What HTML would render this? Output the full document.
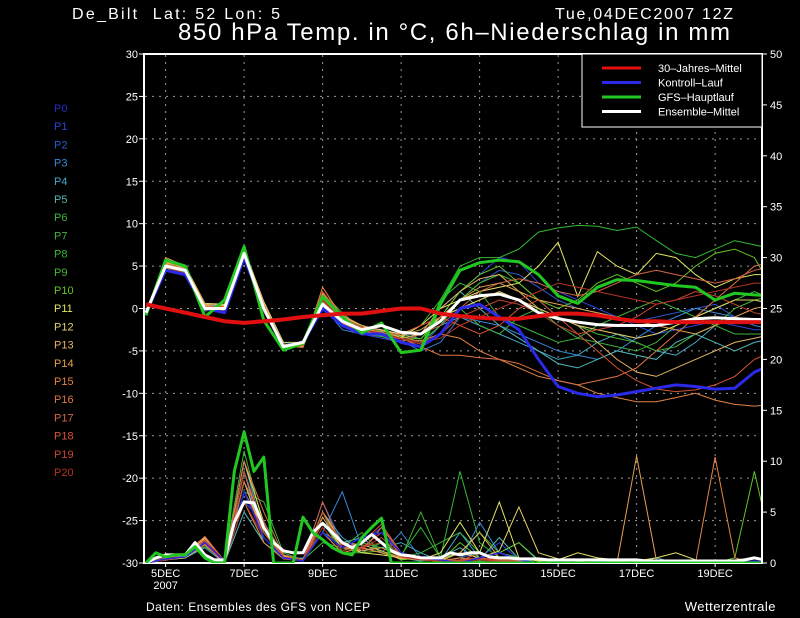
<!DOCTYPE html>
<html><head><meta charset="utf-8"><style>
html,body{margin:0;padding:0;background:#000;}
svg{display:block;font-family:"Liberation Sans",sans-serif;}
</style></head><body>
<svg id="chart" width="800" height="618" viewBox="0 0 800 618">
<defs><clipPath id="plotclip"><rect x="145" y="55" width="616" height="508"/></clipPath></defs>
<rect x="0" y="0" width="800" height="618" fill="#000"/>
<text x="72" y="19" fill="#fff" font-size="16" textLength="208" xml:space="preserve">De_Bilt  Lat: 52 Lon: 5</text>
<text x="555" y="19" fill="#fff" font-size="16" textLength="178">Tue,04DEC2007 12Z</text>
<text x="178" y="40" fill="#fff" font-size="24" textLength="552">850 hPa Temp. in °C, 6h–Niederschlag in mm</text>
<g id="grid"></g>
<g id="axes"></g>
<g id="series" clip-path="url(#plotclip)"></g>
<g id="legend"></g>
<g id="members-legend"></g>
<text x="146" y="611" fill="#fff" font-size="12" letter-spacing="0.5">Daten: Ensembles des GFS von NCEP</text>
<text x="776" y="611" fill="#fff" font-size="13" text-anchor="end" letter-spacing="0.5">Wetterzentrale</text>
</svg>
<script>
// ---- data ----
const dayLabels = ["5DEC","7DEC","9DEC","11DEC","13DEC","15DEC","17DEC","19DEC"];
const dayLabelT = [0.5,2.5,4.5,6.5,8.5,10.5,12.5,14.5];
const tempTicks = [30,25,20,15,10,5,0,-5,-10,-15,-20,-25,-30];
const precipTicks = [50,45,40,35,30,25,20,15,10,5,0];
const memberNames = ["P0","P1","P2","P3","P4","P5","P6","P7","P8","P9","P10","P11","P12","P13","P14","P15","P16","P17","P18","P19","P20"];
const memberColors = ["#2828c8","#2a44d8","#2c58c8","#3688d8","#44a8c8","#52b8b8","#3cb43c","#40b040","#34b834","#44b834","#64c424","#e4e464","#e4d468","#e4b464","#e4a050","#e48444","#e07444","#d46444","#d45434","#c84434","#b43424"];
// temperature, 12h steps from 04DEC 12Z
const climTemp = [0.5,0,-0.5,-1,-1.5,-1.7,-1.5,-1.3,-1,-0.8,-0.6,-0.6,-0.3,0,0,-0.6,-0.9,-1.1,-1.2,-1.2,-0.9,-0.6,-0.6,-0.8,-1.2,-1.5,-1.5,-1.6,-1.6,-1.6,-1.6,-1.6,-1.6];
const controlTemp = [-0.5,4.5,4,0,-0.5,6,0,-4.5,-4,0,-2,-3,-3,-4,-4.5,-3,0,0.5,-1,-2.5,-6,-9.2,-10,-10.4,-10.2,-9.8,-9.4,-9,-9.2,-9.5,-9.4,-7.5,-6.5];
const gfsTemp = [-0.8,5.7,5,-1,1,7.3,-1.4,-4.9,-4.1,1.4,-1,-2.9,-1.7,-5.2,-4.9,0.5,4.5,5.4,5.7,5.5,4,1.5,0.6,2.5,3.4,3.3,3,2.7,2.5,1,1.8,1.6,1.5];
const meanTemp = [-0.5,5,4.5,0,0,6.5,0,-4.5,-4,0.5,-1.5,-2.5,-2,-2.8,-3,-1.5,1,1.5,1.7,1,-0.5,-1.2,-1.6,-1.9,-2,-2,-2,-1.6,-1.2,-1.1,-1.2,-1.3,-1.3];
const m1 = [-0.5,4.8,4.2,0.2,0.5,6.2,0.5,-4.3,-4.2,0.5,-2,-3,-3.5,-4,-3,0,2,4,6,5.5,3,2,1,0,-1,-2,-3,-2.5,-2,-1.5,-2,-2.5,-2.5];
const m2 = [-0.5,5.2,4.6,-0.2,-0.3,6.8,-0.3,-4.6,-4,1.5,-1,-2,-2.5,-3.5,-4.5,-2,1,3,4.5,4,2.5,1,0,-0.5,-1,-1.5,-1,-0.5,0,0.5,-1,-1.5,-2];
const m3 = [-0.3,4.5,4,0.5,0.3,6,0.8,-4,-4.4,0.3,-2.5,-3,-3.2,-3.8,-5,-4,-1,-1.5,-2,-3,-4,-5,-5.5,-6,-5,-3.5,-2,-1,0,-0.5,-1,-2,-2.5];
const m4 = [-0.6,5,4.4,0,0.2,6.4,0.2,-4.5,-3.8,0.8,-1.8,-2.6,-2.8,-3.5,-4,-2,-1,-2,-3,-4,-5,-6,-5.5,-4,-3,-4,-5,-5.5,-4,-2,-1,-1.5,-1.5];
const m5 = [-0.4,4.9,4.3,-0.3,0,6.6,0,-4.4,-4.2,1.2,-1.2,-2,-2.6,-3,-3.6,-1,2,0,-2,-3.5,-5,-6.5,-7,-6,-5,-5.5,-6,-4,-3,-4,-5,-4,-3.5];
const m6 = [-0.5,5.3,4.8,0.3,-0.5,7,0.5,-4.6,-4.4,1.8,-0.5,-2.5,-3,-3.2,-2,1,3,2,-1,-2,-3,-4,-3.5,-2,-1,0,1,0,-1,0,1,2,1];
const m7 = [-0.5,5.1,4.5,0,0,6.6,0,-4.2,-4.5,0.8,-1.5,-3,-3.3,-4,-3,-1,0,-2,-3,-1,0,-2,-3.5,-4,-4.5,-5,-4,-2,-1,-2,-3,-3,-3];
const m8 = [-0.6,5,4.6,0.1,0.2,6.9,0.3,-4.5,-4,1,-1,-2,-2.7,-4,-4.5,1,5,6,6,7,9,9.5,9.8,9.7,9.2,9.6,8,6.5,6,7,8,7.5,7];
const m9 = [-0.5,4.7,4.4,0.3,0.1,6.3,0,-4.4,-4.1,0.6,-2,-2.4,-2.9,-3.2,-4,-2,1,3,4,3,1,-1,-2,-3,-3.5,-4,-5,-4.5,-3,-2,0,1,1.5];
const m10 = [-0.5,5,4.5,0,0,6.5,0.2,-4.4,-4.3,1,-1.6,-2.6,-3,-3.4,-3.6,-1,2,4,5,3,1,0,1,3,4,3,2,3,5,6.5,7,6,2];
const m11 = [-0.4,5.2,4.7,0.4,0.4,6.7,0.5,-4.3,-4.2,1.3,-1.4,-2.4,-2.8,-3.4,-2,0,1,2,2.5,3,5,7.8,1.4,6.7,5,4,6.5,6,4,2.5,3.5,4,4];
const m12 = [-0.5,5.5,5,0.6,0.5,7,0.8,-4,-4,1.5,-1.2,-2.2,-2.5,-3,-3,-1,0,1,2,1,0,-1,-2,-2.5,-3,-3.5,-3,-2,-1,0,1,1,0.5];
const m13 = [-0.6,5.4,4.9,0.5,0.3,6.6,0.4,-4.2,-4.5,1.6,-1,-2,-3,-3.5,-3,0,2,3.5,4,2,0,-1,-2,-4,-6,-7.5,-8,-7,-6,-5,-4,-3.5,-3];
const m14 = [-0.5,6,5,0.5,-0.5,6.8,0.6,-4.3,-4.2,1.8,-0.8,-2,-2.6,-3.2,-2.5,-1,1,2.5,3,2,1,0.5,0,-0.5,-1,-1.5,-2,-2.5,-3,-2,-1,0,0.5];
const m15 = [-0.5,5.6,4.7,0.3,0,6.3,0.3,-4.4,-4.6,2.5,-1,-2.6,-3.1,-3.6,-3.8,-3,-3.5,-5,-6,-7,-8,-8.5,-9,-10,-10.5,-11,-11,-10.5,-10,-10.8,-11.3,-11.5,-11.3];
const m16 = [-0.5,5.3,4.6,0.2,0.2,6.5,0.3,-4.5,-4.3,1.2,-1.3,-2.2,-2.8,-3.5,-4.5,-5.5,-5.5,-5.8,-6,-6.5,-7.5,-8.5,-9,-8.5,-8,-7,-5,-3,-1,1,3,5,5.5];
const m17 = [-0.5,5.1,4.4,-0.2,-0.2,6.1,-0.2,-4.6,-4.1,0.9,-1.7,-2.8,-3.1,-3.9,-3,-2,0,2,3,3.5,3,2,1.5,2,3,4,4.5,4,3.5,3,3.5,4.5,5];
const m18 = [-0.5,5,4.5,0,0.3,6.2,0,-4.5,-4.4,2,-1,-2.3,-3,-3,-2,-1,-2,-3,-2,0,1,-1,-3,-5,-7,-8.5,-9.5,-9.8,-9.6,-9,-8,-6,-5];
const m19 = [-0.5,4.8,4.2,-0.1,-0.4,6.4,-0.4,-4.5,-4,1,-1.4,-2.5,-3,-3.6,-4.2,-3,-1,0,1,0.5,-0.5,-2,-3,-2.5,-2,-1,0.5,1,2,1.5,0.5,-0.5,-1];
const m20 = [-0.5,5,4.6,0.1,0,6.5,0.1,-4.4,-4.2,1.1,-1.5,-2.5,-2.9,-3.5,-4,-3.5,-2,-1,0,1,2,3,2.5,2,1.5,1,0.5,1,1.5,2,2.5,3,3];
// precipitation (mm), members 12h steps, main runs 6h steps
const gfsPrecip = [0,1,0.6,0.8,0.8,1.6,0.5,0,0,9,12.9,9,10.4,0,0,0,4.5,3,2.3,1.5,1,0.8,2.5,3.5,4.4,0,0,0,0,0,0,0,0,0,0,0,0,0,0,0,0,0,0,0,0,0,0,0,0,0,0,0,0,0,0,0,0,0,0,0,0,0,0,0,0];
const meanPrecip = [0,0.5,0.8,0.8,0.8,2,0.8,0.3,0.3,4,6,5.9,3.5,2,1.2,1,1,3,3.9,3,2,1.5,2,2.8,2,1.2,0.8,0.7,0.5,0.5,0.5,1,0.8,1,1,0.6,0.5,0.5,0.4,0.4,0.4,0.3,0.3,0.3,0.3,0.3,0.3,0.3,0.3,0.3,0.3,0.2,0.2,0.2,0.2,0.2,0.2,0.2,0.2,0.2,0.2,0.3,0.5,0.3,0.3];
const controlPrecip = [0,0.4,0.6,2,0.2,7,2.5,0.5,0.2,3,1.5,2.5,3,1,0.5,0.3,0,0.5,1,0.3,0,0,0,0,0,0,0,0,0,0,0,0.2,0];
const p1 = [0,0.5,0.8,2.5,0.2,8,3,0.5,0.2,4,1.5,2,3.5,1,0.5,0.2,0,0.5,2,0.3,0,0,0,0.2,0,0,0,0,0,0.3,0,0,0];
const p2 = [0,0.3,0.6,1.8,0,6,4,0.8,0.3,6,2,1,2,0.8,0.3,0.2,0.5,1,0.4,0,0,0.3,0,0,0,0,0,0,0,0,0.2,0,0];
const p3 = [0,0.4,0.7,2,0.1,9,2,0.4,0.5,3,7,1.5,1,3,0.5,0.3,0.2,4,1,0.5,0,0,0,0,0,0,0,0.2,0,0,0,0,0];
const p4 = [0,0.3,0.5,1.5,0,10,3,0.5,0.2,5,2.5,1.2,1.5,2,1,0.2,3,0.5,1,2,0.2,0,0,0,0,0,0.5,0,0,0,0,0,0];
const p5 = [0,0.4,0.9,2.2,0,5,2,0.6,0.4,3,2,2.5,1,0.5,0.2,0.5,1.5,0.3,2.5,0.4,0,0,0,0,0.3,0,0,0,0,0,0,0,0];
const p6 = [0,0.5,0.6,1.6,0.3,11,3.5,0.7,0.2,5,1,1,2,1,0.4,0.3,0,0.2,0,0,0,0,0,0,0,0,0,0,0,0,0,0,0];
const p7 = [0,0.3,0.8,2,0.2,7,6,1,0.3,2,1.5,3,1,0.5,1,2,3,1,0.2,0,0,0,0,0,0,0,0,0,0,0,0,0,0];
const p8 = [0,0.4,0.7,1.8,0.1,6,2,0.5,0.3,4,1.2,2,1.5,0.8,3.5,0.5,9,2,0.5,0.2,0,0,0,0,0,0,0,0,0,0,0,0,0];
const p9 = [0,0.5,0.6,2,0,8,2.5,0.5,0.2,3,1,1.5,2,0.5,5,0.5,1,3,1,0.5,0,0,0,0,0,0,0,0,0,0,0,0,0];
const p10 = [0,0.3,0.7,2.2,0.2,9,3,0.6,0.2,4,1.5,1,1.2,0.3,0.5,0.2,2,0.5,1,2,0.3,0,0,0,0,0,0,0,0,0,0.5,9,0.5];
const p11 = [0,0.4,0.8,2.4,0.1,10,4,0.7,0.3,5,2,1,0.8,0.5,0.3,1,4,1,6,0.5,0.2,0.3,1,0.5,0.3,0.2,0.5,1,0.3,0,0.2,0,0];
const p12 = [0,0.3,0.5,1.8,0.1,8,2.5,0.5,0.2,4,1.5,1.5,1,0.4,0.5,0.3,1,0.5,1.2,5.5,1,0.4,0.2,0,0.2,0,0,0,0,0,0,0,0];
const p13 = [0,0.5,0.8,2.5,0.2,7,3.5,0.6,0.3,5,2,1.8,1.2,0.5,0.3,0.2,1,3,0.5,0.3,0,0,0,0,0,0,0,0,0,0,0,0,0];
const p14 = [0,0.4,0.7,2,0.1,9,3,0.5,0.2,4.5,1.5,1.2,1.5,0.6,0.3,0.2,0.5,0.3,0.2,0,0,0,0,0,0,10.5,0.3,0,0,0,0,0,0];
const p15 = [0,0.3,0.6,1.8,0,6,2,0.4,0.2,3,1,1.5,1,0.5,0.3,0.2,0.5,0.3,0.2,0,0,0,0,0,0,0,0,0,0,10.4,0.5,0,0];
const p16 = [0,0.5,0.9,2.6,0.2,10,5,0.8,0.3,4,2,1.2,3.5,1,0.5,0.3,0.2,0.5,0.3,0,0,0,0,0,0,0,0,0,0,0,0,0,0];
const p17 = [0,0.4,0.7,2.2,0.1,8,4,0.6,0.2,6,1.5,1.5,3,0.8,0.5,0.2,0.2,1,0.4,0.2,0,0,0,0,0,0,0,0,0,0,0,0,0];
const p18 = [0,0.3,0.6,1.9,0.1,7,3,0.5,0.2,5,1.5,2,3.8,1,0.4,0.2,0.3,0.5,0.3,0.1,0,0,0,0,0,0,0,0,0,0,0,0,0];
const p19 = [0,0.4,0.8,2.3,0.2,9,3.5,0.6,0.3,4,1.8,1.4,2.5,0.7,0.3,0.2,0.2,0.4,0.2,0,0,0,0,0,0,0,0,0,0,0,0,0,0];
const p20 = [0,0.3,0.6,2,0.1,6,2.5,0.5,0.2,3.5,1.2,1.6,2,0.6,0.3,0.2,0.1,0.3,0.1,0,0,0,0,0,0,0,0,0,0,0,0,0,0];
const memberTemps = [m1,m2,m3,m4,m5,m6,m7,m8,m9,m10,m11,m12,m13,m14,m15,m16,m17,m18,m19,m20];
const memberPrecips = [p1,p2,p3,p4,p5,p6,p7,p8,p9,p10,p11,p12,p13,p14,p15,p16,p17,p18,p19,p20];

// ---- scales ----
const X0 = 146, PXD = 39.25, YTOP = 54, YBOT = 563;
function xT(t){ return X0 + t*PXD; }
function yTemp(v){ return YTOP + (30 - v)/60*(YBOT-YTOP); }
function yPrec(v){ return YBOT - v/50*(YBOT-YTOP); }
const NS = "http://www.w3.org/2000/svg";
function mk(tag, attrs, parent){ const e=document.createElementNS(NS,tag); for(const k in attrs) e.setAttribute(k,attrs[k]); parent.appendChild(e); return e; }
function pts(arr, step, yf){ return arr.map((v,i)=>xT(i*step).toFixed(1)+","+yf(v).toFixed(1)).join(" "); }

const grid = document.getElementById("grid"), axes = document.getElementById("axes"), series = document.getElementById("series");
tempTicks.forEach(v=>{
  if(v===30||v===-30) return;
  const l = mk("line",{x1:145,x2:762,y1:yTemp(v),y2:yTemp(v),stroke:"#9a9a9a","stroke-width":1,"stroke-dasharray":"2,5"},grid);
  
  
});
dayLabelT.forEach(t=>{
  const l = mk("line",{x1:xT(t),x2:xT(t),y1:55,y2:563,stroke:"#9a9a9a","stroke-width":1,"stroke-dasharray":"2,5"},grid);
  
  
});
tempTicks.forEach(v=>{
  const y=yTemp(v);
  const tk = mk("line",{x1:139,x2:144,y1:y,y2:y,stroke:"#fff","stroke-width":1},axes);
  
  
  const tx = mk("text",{x:138,y:y+4,fill:"#fff","font-size":11,"text-anchor":"end"},axes);
  tx.textContent = v;
  
  
});
precipTicks.forEach(v=>{
  const y=yPrec(v);
  const tk = mk("line",{x1:762,x2:767,y1:y,y2:y,stroke:"#fff","stroke-width":1},axes);
  
  
  const tx = mk("text",{x:770,y:y+4,fill:"#fff","font-size":11},axes);
  tx.textContent = v;
  
  
});
dayLabels.forEach((d,i)=>{
  const x=xT(dayLabelT[i]);
  const tk = mk("line",{x1:x,x2:x,y1:563,y2:567,stroke:"#fff","stroke-width":1},axes);
  
  
  const tx = mk("text",{x:x,y:577,fill:"#fff","font-size":11,"text-anchor":"middle"},axes);
  tx.textContent = d;
  
  
});
const yr = mk("text",{x:xT(dayLabelT[0]),y:589,fill:"#fff","font-size":11,"text-anchor":"middle"},axes);
yr.textContent = "2007";



memberPrecips.forEach((arr,i)=>{
  const p = mk("polyline",{points:pts(arr,0.5,yPrec),fill:"none",stroke:memberColors[i+1],"stroke-width":1},series);
  
  
});
const cp = mk("polyline",{points:pts(controlPrecip,0.5,yPrec),fill:"none",stroke:"#2828d8","stroke-width":1.5},series);


memberTemps.forEach((arr,i)=>{
  const p = mk("polyline",{points:pts(arr,0.5,yTemp),fill:"none",stroke:memberColors[i+1],"stroke-width":1},series);
  
  
});
const ct = mk("polyline",{points:pts(controlTemp,0.5,yTemp),fill:"none",stroke:"#2a2ae8","stroke-width":3,"stroke-linejoin":"round"},series);


const mp = mk("polyline",{points:pts(meanPrecip,0.25,yPrec),fill:"none",stroke:"#fff","stroke-width":3,"stroke-linejoin":"round"},series);


const gp = mk("polyline",{points:pts(gfsPrecip,0.25,yPrec),fill:"none",stroke:"#22c822","stroke-width":3,"stroke-linejoin":"round"},series);


const gt = mk("polyline",{points:pts(gfsTemp,0.5,yTemp),fill:"none",stroke:"#22c822","stroke-width":3,"stroke-linejoin":"round"},series);


const mt = mk("polyline",{points:pts(meanTemp,0.5,yTemp),fill:"none",stroke:"#fff","stroke-width":3,"stroke-linejoin":"round"},series);


const cl = mk("polyline",{points:pts(climTemp,0.5,yTemp),fill:"none",stroke:"#e01010","stroke-width":4,"stroke-linejoin":"round"},series);



const fr = mk("rect",{x:144,y:54,width:618,height:509,fill:"none",stroke:"#fff","stroke-width":2},axes);



const legend = document.getElementById("legend");
const lb = mk("rect",{x:582,y:54,width:180,height:73,fill:"#000",stroke:"#fff","stroke-width":1},legend);


const legNames = ["30–Jahres–Mittel","Kontroll–Lauf","GFS–Hauptlauf","Ensemble–Mittel"];
const legColors = ["#e01010","#2a2ae8","#22c822","#ffffff"];
legNames.forEach((n,i)=>{
  const y = 68 + i*14.5;
  const l = mk("line",{x1:602,x2:641,y1:y,y2:y,stroke:legColors[i],"stroke-width":3},legend);
  
  
  const t = mk("text",{x:658,y:y+4,fill:"#fff","font-size":11},legend);
  t.textContent = n;
  
  
});
const ml = document.getElementById("members-legend");
memberNames.forEach((n,i)=>{
  const t = mk("text",{x:54,y:112+i*18.2,fill:memberColors[i],"font-size":11},ml);
  t.textContent = n;
  
  
});
</script>
</body></html>
